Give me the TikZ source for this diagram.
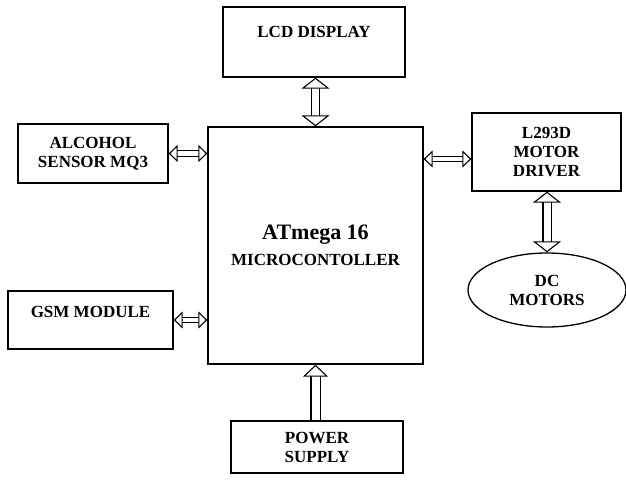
\documentclass[tikz,border=0pt]{standalone}
\usepackage{fontspec}
\setmainfont{Liberation Serif}
\usetikzlibrary{arrows.meta,positioning,shapes.geometric}
\tikzset{
  bloque/.style={
    draw=black,
    line width=1.3pt,
    fill=white,
    align=center,
    inner sep=2pt,
    font=\bfseries\fontsize{17}{19}\selectfont
  },
  bigarrow/.style={
    draw=black,
    line width=1.1pt,
    double=white,
    double distance=7pt,
    {Triangle[open,length=11pt,width=28pt,line width=1.1pt]}-{Triangle[open,length=11pt,width=28pt,line width=1.1pt]}
  },
  smallarrow/.style={
    draw=black,
    line width=1.1pt,
    double=white,
    double distance=4.5pt,
    {Triangle[open,length=9pt,width=17pt,line width=1.1pt]}-{Triangle[open,length=9pt,width=17pt,line width=1.1pt]}
  },
  uparrow/.style={
    draw=black,
    line width=1.1pt,
    double=white,
    double distance=8pt,
    -{Triangle[open,length=12pt,width=25pt,line width=1.1pt]}
  }
}

\begin{document}
\begin{tikzpicture}[x=1pt,y=-1pt]
\useasboundingbox (0,0) rectangle (626,484);
\node[bloque,minimum width=182pt,minimum height=70pt,text depth=20pt] (lcd) at (314,42) {LCD DISPLAY};
\node[bloque,minimum width=215pt,minimum height=237pt] (mcu) at (315.5,245.5)
  {{\fontsize{22}{26}\selectfont ATmega 16}\\[7pt]MICROCONTOLLER};
\node[bloque,minimum width=150pt,minimum height=59pt] (alc) at (93,153.5) {ALCOHOL\\SENSOR MQ3};
\node[bloque,minimum width=165pt,minimum height=58pt,text depth=16pt] (gsm) at (90.5,320) {GSM MODULE};
\node[bloque,minimum width=149pt,minimum height=78pt] (drv) at (546.5,152) {L293D\\MOTOR\\DRIVER};
\node[bloque,ellipse,minimum width=158pt,minimum height=74pt,inner sep=0pt] (mot) at (547,290) {DC\\MOTORS};
\node[bloque,minimum width=172pt,minimum height=52pt] (pwr) at (317,447) {POWER\\SUPPLY};

\draw[bigarrow] (lcd.south -| mcu.north) -- (mcu.north);
\draw[smallarrow] (alc.east) -- (alc.east -| mcu.west);
\draw[smallarrow] (gsm.east) -- (gsm.east -| mcu.west);
\draw[smallarrow] (mcu.east |- 0,159) -- (drv.west |- 0,159);
\draw[bigarrow] (drv.south -| mot.north) -- (mot.north);
\draw[uparrow] (pwr.north -| mcu.south) -- (mcu.south);
\end{tikzpicture}
\end{document}
